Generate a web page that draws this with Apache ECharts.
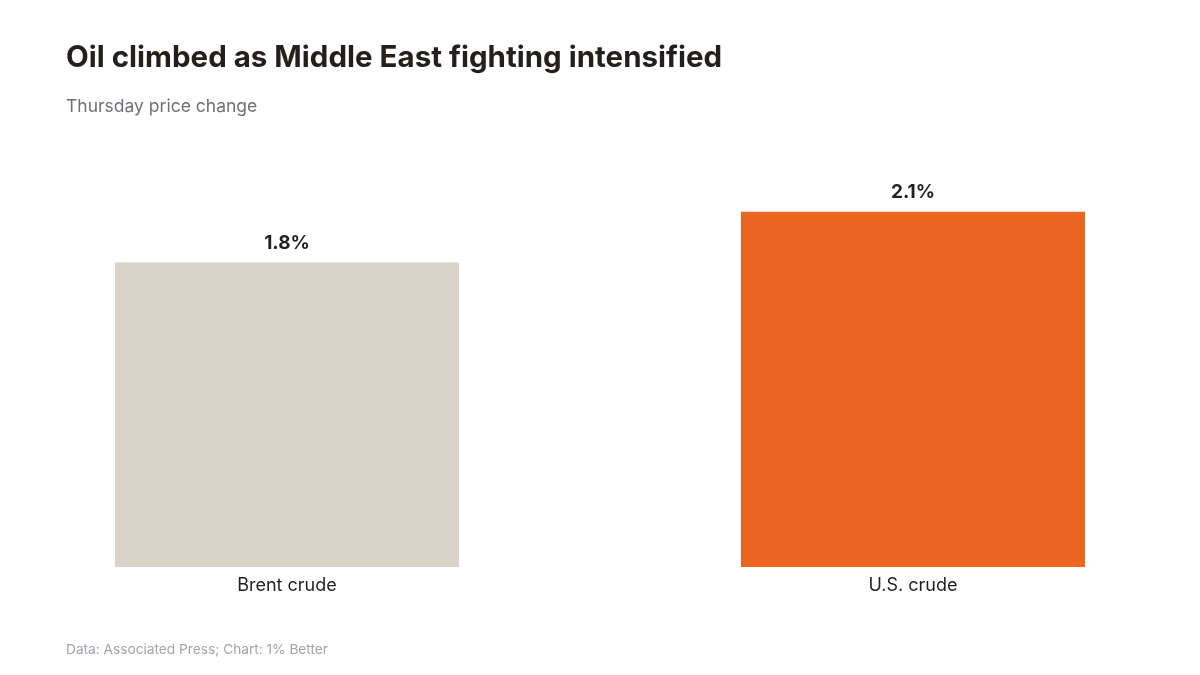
<!DOCTYPE html>
<html>
<head>
<meta charset="utf-8">
<style>
  html, body { margin: 0; padding: 0; background: #fff; }
  #chart { width: 1200px; height: 675px; }
</style>
<script src="https://cdn.jsdelivr.net/npm/echarts@6/dist/echarts.min.js"></script>
</head>
<body>
<div id="chart"></div>
<script>
// data
const categories = ['Brent crude', 'U.S. crude'];
const priceChange = [1.8, 2.1];
const barColors = ['#d9d4ca', '#ec6520'];

const chart = echarts.init(document.getElementById('chart'));
const font = 'Inter, "Open Sans", sans-serif';

chart.setOption({
    backgroundColor: '#fff',
    title: [
        {
            text: 'Oil climbed as Middle East fighting intensified',
            left: 61, top: 38,
            textStyle: { fontFamily: font, fontSize: 29.5, fontWeight: 'bold', color: '#231f1c' }
        },
        {
            text: 'Thursday price change',
            left: 61, top: 93,
            textStyle: { fontFamily: font, fontSize: 17.5, fontWeight: 'normal', color: '#6f6f78' }
        },
        {
            text: 'Data: Associated Press; Chart: 1% Better',
            left: 61, top: 638,
            textStyle: { fontFamily: font, fontSize: 13.7, fontWeight: 'normal', color: '#a3a3ab' }
        }
    ],
    // bars sit on the category edges, so the grid spans centre to centre
    grid: { left: 287, right: 287, top: 144, bottom: 108 },
    xAxis: {
        type: 'category',
        data: categories,
        boundaryGap: false,
        axisLine: { show: false },
        axisTick: { show: false },
        axisLabel: { fontFamily: font, fontSize: 18, color: '#231f1c', margin: 10 }
    },
    yAxis: {
        type: 'value',
        min: 0, max: 2.5,
        show: false,
        splitLine: { show: false }
    },
    series: [{
        type: 'bar',
        barWidth: 344,
        clip: false,
        data: priceChange.map((v, i) => ({ value: v, itemStyle: { color: barColors[i] } })),
        label: {
            show: true,
            position: 'top',
            distance: 10,
            formatter: p => p.value.toFixed(1) + '%',
            fontFamily: font, fontSize: 19, fontWeight: 'bold', color: '#231f1c'
        }
    }],
    animation: false
});
</script>
</body>
</html>
